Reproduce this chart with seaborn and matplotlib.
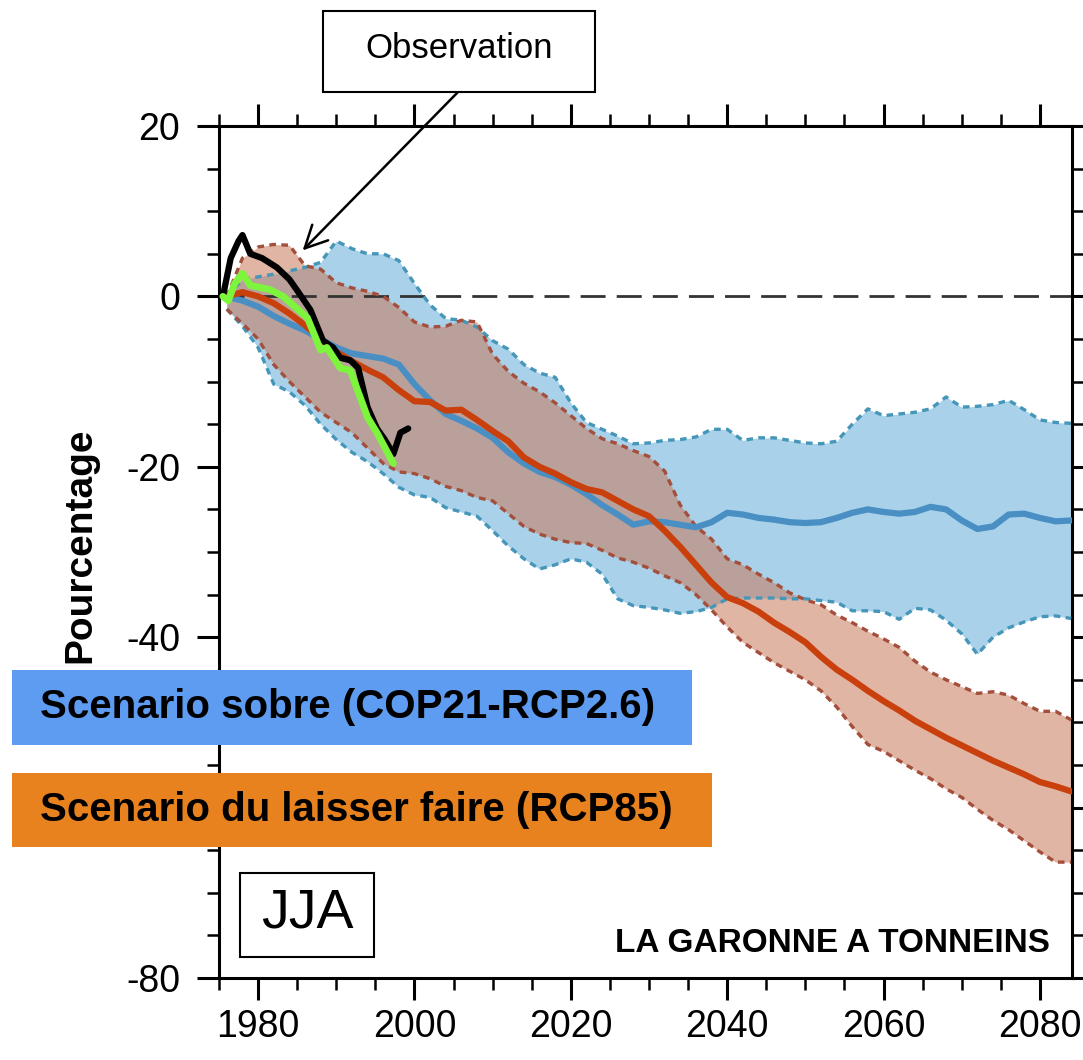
import numpy as np
import matplotlib.pyplot as plt
import matplotlib.patches as mpatches
import pandas as pd
import seaborn as sns

# simulated river flow change (%) relative to 1976, summer (JJA)
years = [1976, 1978, 1980, 1982, 1984, 1986, 1988, 1990, 1992, 1994, 1996, 1998,
         2000, 2002, 2004, 2006, 2008, 2010, 2012, 2014, 2016, 2018, 2020, 2022,
         2024, 2026, 2028, 2030, 2032, 2034, 2036, 2038, 2040, 2042, 2044, 2046,
         2048, 2050, 2052, 2054, 2056, 2058, 2060, 2062, 2064, 2066, 2068, 2070,
         2072, 2074, 2076, 2078, 2080, 2082, 2084]

rcp85_mean = [0, 0.5, 0, -0.8, -2.0, -3.4, -5.0, -6.5, -7.6, -8.6, -9.5, -11.0,
              -12.3, -12.4, -13.4, -13.3, -14.5, -15.8, -17.0, -18.9, -20.0, -20.8, -21.8, -22.6,
              -23.0, -24.0, -25.0, -25.8, -27.5, -29.4, -31.5, -33.6, -35.3, -36.0, -37.0, -38.3,
              -39.4, -40.6, -42.3, -43.8, -45.0, -46.3, -47.5, -48.6, -49.8, -50.8, -51.8, -52.7,
              -53.6, -54.5, -55.3, -56.1, -57.0, -57.5, -58.1]
rcp85_high = [0, 4.5, 5.8, 6.1, 6.0, 3.6, 3.2, 1.6, 1.0, 0.6, 0.0, -1.3,
              -3.0, -3.6, -3.5, -2.8, -3.0, -6.8, -8.8, -10.2, -11.2, -12.5, -14.0, -15.5,
              -16.7, -17.3, -18.1, -18.8, -20.5, -24.5, -27.0, -28.5, -30.8, -31.5, -32.6, -33.6,
              -34.8, -35.6, -36.2, -37.4, -38.3, -39.3, -40.2, -41.2, -42.8, -44.1, -45.0, -45.8,
              -46.6, -46.4, -46.8, -47.8, -48.7, -48.7, -49.7]
rcp85_low = [-1.5, -3.2, -5.0, -8.0, -10.0, -11.8, -13.6, -14.8, -16.0, -17.8, -19.6, -20.6,
             -20.8, -21.4, -22.3, -22.8, -23.6, -24.0, -25.5, -27.0, -27.9, -28.5, -28.9, -29.0,
             -29.8, -30.7, -31.2, -31.9, -32.8, -33.6, -35.0, -36.8, -38.8, -40.6, -41.8, -43.0,
             -44.0, -45.0, -46.3, -48.2, -50.5, -52.6, -53.4, -54.5, -55.6, -56.6, -57.8, -58.8,
             -60.2, -61.5, -62.6, -63.9, -65.2, -66.4, -66.4]

rcp26_mean = [0, -0.5, -1.2, -2.3, -3.2, -4.0, -5.0, -6.0, -6.7, -7.0, -7.3, -8.0,
              -10.3, -12.2, -13.8, -14.6, -15.5, -16.6, -18.3, -19.6, -20.6, -21.2, -22.1, -23.2,
              -24.5, -25.6, -26.8, -26.4, -26.5, -26.8, -27.1, -26.5, -25.4, -25.6, -26.0, -26.2,
              -26.5, -26.6, -26.5, -26.0, -25.4, -25.0, -25.3, -25.5, -25.3, -24.7, -25.0, -26.3,
              -27.3, -27.0, -25.6, -25.5, -26.0, -26.4, -26.3]
rcp26_high = [0, 2.0, 2.3, 2.6, 3.0, 3.4, 4.0, 6.5, 5.6, 5.0, 5.0, 4.2,
              1.5, -1.0, -2.6, -2.8, -3.6, -5.2, -6.2, -8.0, -9.0, -9.5, -12.5, -14.8,
              -15.6, -16.4, -17.3, -17.2, -16.9, -16.8, -16.5, -15.6, -15.6, -16.9, -16.6, -16.6,
              -16.9, -17.2, -17.3, -17.0, -15.0, -13.2, -14.0, -13.8, -13.6, -13.2, -11.8, -13.0,
              -12.9, -12.7, -12.2, -13.3, -14.5, -14.8, -14.9]
rcp26_low = [-1.5, -3.5, -6.0, -10.3, -11.2, -12.8, -15.0, -16.8, -18.3, -19.4, -20.8, -22.4,
             -23.3, -23.6, -24.8, -25.3, -25.8, -27.5, -29.3, -30.8, -32.0, -31.5, -30.8, -31.2,
             -32.6, -35.5, -36.3, -36.5, -36.8, -37.2, -37.0, -36.5, -35.5, -35.4, -35.4, -35.4,
             -35.5, -35.5, -35.7, -35.9, -36.9, -36.9, -37.0, -37.9, -36.6, -36.8, -38.0, -39.6,
             -42.0, -40.0, -38.9, -38.2, -37.6, -37.5, -37.8]

# observations
obs_years = [1975.5, 1976.5, 1977.5, 1978, 1979, 1980.5, 1982.4, 1984, 1985, 1986.7, 1988.3,
             1989.6, 1990.5, 1991.8, 1992.8, 1994, 1995.2, 1996.2, 1997.3, 1998.2, 1999.2]
obs_values = [0, 4.5, 6.5, 7.2, 5.0, 4.5, 3.4, 2.0, 0.7, -1.6, -5.2,
              -6.0, -7.2, -7.5, -8.4, -13.0, -15.5, -16.8, -18.5, -16.0, -15.5]
obs2_years = [1975.5, 1976.2, 1977, 1978, 1979, 1981.5, 1983.2, 1986.3, 1988, 1988.8,
              1990.5, 1991.8, 1994, 1995.2, 1997.3]
obs2_values = [0, -0.5, 1.5, 2.7, 1.3, 0.8, 0.0, -2.5, -6.3, -6.0,
               -8.4, -8.7, -14.2, -16.0, -19.6]

ytick_vals = [-80, -60, -40, -20, 0, 20]
ytick_labels = ['-80', '', '-40', '-20', '0', '20']   # -60 sits under the orange box
scen_labels = ['Scenario sobre (COP21-RCP2.6)', 'Scenario du laisser faire (RCP85)']

df = pd.DataFrame({'year': years, 'rcp85': rcp85_mean, 'rcp26': rcp26_mean})

sns.set_style('ticks')
plt.rcParams['font.family'] = ['Liberation Sans', 'DejaVu Sans']
plt.rcParams['text.color'] = 'black'
plt.rcParams['axes.unicode_minus'] = False

W, H = 1083, 1060
fig = plt.figure(figsize=(W / 100, H / 100), dpi=100)
ax = fig.add_axes([219 / W, 1 - 978 / H, (1072 - 219) / W, (978 - 126) / H])

# uncertainty bands
ax.fill_between(years, rcp26_low, rcp26_high, color='#a9d2ea', lw=0, zorder=1)
ax.fill_between(years, rcp85_low, rcp85_high, color='#c8785a', alpha=0.55, lw=0, zorder=2)
for arr in (rcp26_high, rcp26_low):
    ax.plot(years, arr, color='#4596b8', lw=2.4, ls=(0, (2.0, 1.6)), zorder=3)
for arr in (rcp85_high, rcp85_low):
    ax.plot(years, arr, color='#a44e3c', lw=2.4, ls=(0, (2.0, 1.6)), zorder=3)

ax.axhline(0, color='#333333', lw=2, ls=(0, (9, 4)), zorder=2.5)

# ensemble means
sns.lineplot(data=df, x='year', y='rcp26', ax=ax, color='#4a8fc4', lw=4.5, zorder=4)
sns.lineplot(data=df, x='year', y='rcp85', ax=ax, color='#c9400c', lw=4.5, zorder=5)

# observations
sns.lineplot(x=obs_years, y=obs_values, ax=ax, color='black', lw=4.5, zorder=6, sort=False)
sns.lineplot(x=obs2_years, y=obs2_values, ax=ax, color='#7cf53c', lw=5, zorder=7, sort=False)

ax.set_xlim(1975, 2084.1)
ax.set_ylim(-80, 20)
ax.set_xticks(range(1980, 2081, 20))
ax.set_xticks(range(1975, 2085, 5), minor=True)
ax.set_yticks(ytick_vals)
ax.set_yticklabels(ytick_labels)
ax.set_yticks(range(-80, 21, 5), minor=True)
ax.set_xlabel('')
ax.set_ylabel('')
for s in ax.spines.values():
    s.set_linewidth(2.2)
    s.set_color('black')
    s.set_visible(True)
ax.tick_params(which='major', direction='out', length=16, width=2.2, labelsize=27,
               top=True, right=True, colors='black')
ax.tick_params(which='minor', direction='out', length=8.5, width=1.8,
               top=True, right=True, colors='black')
ax.tick_params(axis='y', pad=12)
ax.tick_params(axis='x', pad=6)

fig.text(80 / W, 1 - 545 / H, 'Pourcentage', rotation=90, ha='center', va='center',
         fontsize=28, fontweight='bold')

# station name and season
fig.text(1050 / W, 1 - 943 / H, 'LA GARONNE A TONNEINS', fontsize=24,
         fontweight='bold', ha='right', va='center')
fig.patches.append(mpatches.Rectangle((240 / W, 1 - 957 / H), 134 / W, 84 / H,
                                      transform=fig.transFigure, fill=False,
                                      edgecolor='black', lw=1.5, zorder=3))
fig.text(307 / W, 1 - 914 / H, 'JJA', fontsize=40, ha='center', va='center')

# observation callout
fig.patches.append(mpatches.Rectangle((323 / W, 1 - 92 / H), 272 / W, 81 / H,
                                      transform=fig.transFigure, facecolor='white',
                                      edgecolor='black', lw=1.5, zorder=3))
fig.text(459 / W, 1 - 48 / H, 'Observation', fontsize=25, ha='center', va='center')
ax.annotate('', xy=(1985.7, 5.4), xycoords='data',
            xytext=(458 / W, 1 - 92 / H), textcoords='figure fraction',
            arrowprops=dict(arrowstyle='->', lw=1.8, color='black', mutation_scale=40,
                            shrinkA=0, shrinkB=0), zorder=8)

# scenario boxes
box_colors = ['#5e9cf2', '#e8821e']
box_geo = [(12, 670, 680, 75), (12, 773, 700, 74)]
for lab, col, (x0, y0, w, h) in zip(scen_labels, box_colors, box_geo):
    fig.patches.append(mpatches.Rectangle((x0 / W, 1 - (y0 + h) / H), w / W, h / H,
                                          transform=fig.transFigure, facecolor=col,
                                          edgecolor='none', zorder=3))
    fig.text(40 / W, 1 - (y0 + h / 2) / H, lab, fontsize=29, fontweight='bold',
             ha='left', va='center', zorder=4)

fig.savefig('out.png', dpi=100)
